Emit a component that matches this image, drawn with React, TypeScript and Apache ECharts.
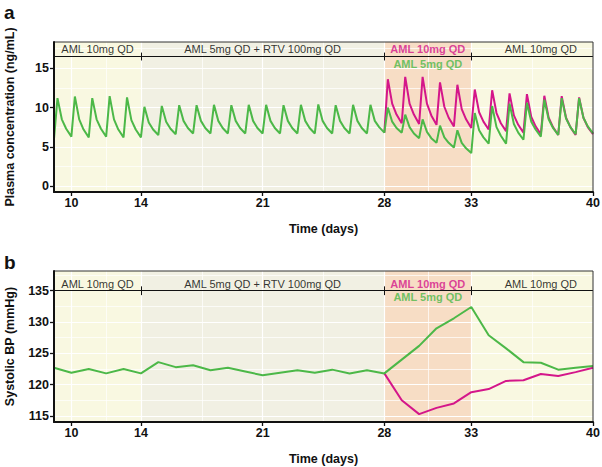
import React, { useEffect, useRef } from 'react';
import * as echarts from 'echarts';

// ---------- Data (panel a: plasma concentration, ng/mL) ----------
// sample times within each daily dosing interval: dose (trough), peak, mid-decay, late-decay
const PEAK_T = 0.2;
const MID_T = 0.45;
const LATE_T = 0.7;

const greenStartDay = 9;
const greenTrough = [6.0, 6.3, 6.2, 6.3, 6.2, 6.2, 6.5, 6.6, 6.7, 6.7, 6.7, 6.7, 6.7, 6.7, 6.7, 6.7, 6.7, 6.7, 6.7, 6.8, 6.8, 6.1, 5.5, 4.9, 4.2, 5.4, 5.4, 5.9, 6.3, 6.5, 6.6, 6.7];
const greenPeak = [11.2, 11.4, 11.2, 11.45, 11.3, 10.1, 10.2, 10.3, 10.3, 10.35, 10.3, 10.35, 10.35, 10.3, 10.35, 10.4, 10.3, 10.35, 10.35, 10.0, 9.1, 8.5, 7.7, 7.1, 9.3, 10.2, 10.5, 10.6, 11.0, 11.2, 11.2];
const greenMid = [8.5, 8.5, 8.5, 8.5, 8.4, 8.1, 8.2, 8.3, 8.3, 8.3, 8.3, 8.3, 8.3, 8.3, 8.3, 8.3, 8.3, 8.3, 8.3, 8.2, 7.5, 6.9, 6.2, 5.5, 7.1, 7.5, 7.9, 8.2, 8.5, 8.6, 8.7];
const greenLate = [7.3, 7.2, 7.3, 7.2, 7.2, 7.2, 7.3, 7.4, 7.4, 7.4, 7.4, 7.4, 7.4, 7.4, 7.4, 7.4, 7.4, 7.4, 7.5, 7.4, 6.7, 6.1, 5.5, 4.8, 6.2, 6.4, 6.8, 7.2, 7.4, 7.5, 7.6];

const magStartDay = 28;
const magTrough = [6.8, 8.0, 7.9, 7.8, 7.6, 7.4, 7.2, 7.0, 6.8, 6.6, 6.5, 6.5, 6.6];
const magPeak = [13.6, 13.9, 13.9, 13.2, 12.9, 12.3, 12.2, 11.8, 11.7, 11.5, 11.45, 11.3];
const magMid = [10.5, 10.5, 10.5, 10.1, 9.8, 9.4, 9.3, 9.0, 8.8, 8.7, 8.7, 8.7];
const magLate = [9.1, 9.1, 9.0, 8.7, 8.5, 8.2, 8.0, 7.8, 7.6, 7.5, 7.5, 7.5];

// ---------- Data (panel b: systolic BP, mmHg) ----------
const bpGreenDays = [9, 10, 11, 12, 13, 14, 15, 16, 17, 18, 19, 20, 21, 22, 23, 24, 25, 26, 27, 28, 29, 30, 31, 32, 33, 34, 35, 36, 37, 38, 39, 40];
const bpGreen = [122.7, 121.9, 122.5, 121.8, 122.5, 121.8, 123.6, 122.8, 123.1, 122.3, 122.7, 122.1, 121.5, 121.9, 122.3, 121.9, 122.4, 121.8, 122.3, 121.8, 124.0, 126.2, 129.0, 130.6, 132.4, 127.9, 125.8, 123.6, 123.5, 122.4, 122.7, 123.0];
const bpMagDays = [28, 29, 30, 31, 32, 33, 34, 35, 36, 37, 38, 39, 40];
const bpMag = [121.8, 117.5, 115.3, 116.3, 117.0, 118.8, 119.3, 120.6, 120.7, 121.7, 121.4, 122.0, 122.7];

// ---------- Axes / annotations ----------
const xTicks = [10, 14, 21, 28, 33, 40];
const xMinor = [12, 17.5, 24.5, 30.5, 36.5];
const yTicksA = [0, 5, 10, 15];
const yMinorA = [2.5, 7.5, 12.5, 17.5];
const yTicksB = [115, 120, 125, 130, 135];
const yMinorB = [117.5, 122.5, 127.5, 132.5, 137.5];
const regionBounds = [9, 14, 28, 33, 40];
const regionColors = ['#f9f8e1', '#f1f0e3', '#f7ddc5', '#f9f8e1'];
const phaseLabels = ['AML 10mg QD', 'AML 5mg QD + RTV 100mg QD', 'AML 10mg QD', 'AML 5mg QD', 'AML 10mg QD'];
const phaseLabelX = [11.5, 21, 30.5, 30.5, 37];
const phaseBreaks = [14, 28, 33];

const GREEN = '#4cb848';
const MAGENTA = '#d4168a';
const FONT = '"Liberation Sans", Arial, Helvetica, sans-serif';

function buildPk(start: number, trough: number[], peak: number[], mid: number[], late: number[]) {
  const pts: number[][] = [];
  for (let i = 0; i < peak.length; i++) {
    const d = start + i;
    pts.push([d, trough[i]], [d + PEAK_T, peak[i]], [d + MID_T, mid[i]], [d + LATE_T, late[i]]);
  }
  pts.push([start + peak.length, trough[peak.length]]);
  return pts;
}

function zipXY(xs: number[], ys: number[]) {
  return xs.map((x, i) => [x, ys[i]]);
}

export default function App() {
  const ref = useRef<HTMLDivElement>(null);
  useEffect(() => {
    const chart = echarts.init(ref.current!, null, { renderer: 'svg' });

    const panels = [
      { yMin: -0.76, yMax: 18.35, ticks: yTicksA, minor: yMinorA, headerY: 16.5, tickHalf: 0.5, labelTop: 17.45, labelBottom: 15.55, name: 'Plasma concentration (ng/mL)' },
      { yMin: 114.04, yMax: 138.15, ticks: yTicksB, minor: yMinorB, headerY: 135, tickHalf: 0.7, labelTop: 136.05, labelBottom: 134.05, name: 'Systolic BP (mmHg)' },
    ];

    const series: any[] = [];
    panels.forEach((p, gi) => {
      series.push({
        type: 'line', xAxisIndex: gi, yAxisIndex: gi, data: [], silent: true,
        markArea: {
          silent: true, z: 0,
          data: regionColors.map((c, i) => [
            { xAxis: regionBounds[i], yAxis: p.yMin, itemStyle: { color: c } },
            { xAxis: regionBounds[i + 1], yAxis: p.yMax },
          ]),
        },
      });
      const gl: any[] = [];
      xTicks.forEach((v) => gl.push({ xAxis: v, lineStyle: { color: '#ffffff', width: 1.2, type: 'solid' } }));
      xMinor.forEach((v) => gl.push({ xAxis: v, lineStyle: { color: '#ffffff', width: 0.7, type: 'solid' } }));
      p.ticks.forEach((v) => gl.push({ yAxis: v, lineStyle: { color: '#ffffff', width: 1.2, type: 'solid' } }));
      p.minor.forEach((v) => gl.push({ yAxis: v, lineStyle: { color: '#ffffff', width: 0.7, type: 'solid' } }));
      series.push({
        type: 'line', xAxisIndex: gi, yAxisIndex: gi, data: [], silent: true,
        markLine: { silent: true, z: 1, symbol: 'none', label: { show: false }, data: gl },
      });
      const hl: any[] = [[{ coord: [9, p.headerY] }, { coord: [40, p.headerY] }]];
      phaseBreaks.forEach((b) => hl.push([{ coord: [b, p.headerY - p.tickHalf] }, { coord: [b, p.headerY + p.tickHalf] }]));
      series.push({
        type: 'line', xAxisIndex: gi, yAxisIndex: gi, data: [], silent: true,
        markLine: { silent: true, z: 2, symbol: 'none', label: { show: false }, lineStyle: { color: '#111', width: 1, type: 'solid' }, data: hl },
      });
      const lbl = phaseLabels.map((t, i) => {
        const isMag = i === 2;
        const isGreen = i === 3;
        return {
          value: [phaseLabelX[i], isGreen ? p.labelBottom : p.labelTop],
          label: {
            formatter: t,
            color: isMag ? MAGENTA : isGreen ? GREEN : '#000',
            fontWeight: isMag || isGreen ? 'bold' : 'normal',
          },
        };
      });
      series.push({
        type: 'scatter', xAxisIndex: gi, yAxisIndex: gi, symbolSize: 0, silent: true, z: 6,
        itemStyle: { color: 'transparent' },
        label: { show: true, position: 'inside', fontSize: 11, fontFamily: FONT },
        data: lbl,
      });
    });

    series.push({
      type: 'line', xAxisIndex: 0, yAxisIndex: 0, z: 3, showSymbol: false, symbol: 'none',
      lineStyle: { color: MAGENTA, width: 2 }, data: buildPk(magStartDay, magTrough, magPeak, magMid, magLate),
    });
    series.push({
      type: 'line', xAxisIndex: 0, yAxisIndex: 0, z: 4, showSymbol: false, symbol: 'none',
      lineStyle: { color: GREEN, width: 2 }, data: buildPk(greenStartDay, greenTrough, greenPeak, greenMid, greenLate),
    });
    series.push({
      type: 'line', xAxisIndex: 1, yAxisIndex: 1, z: 3, showSymbol: false, symbol: 'none',
      lineStyle: { color: MAGENTA, width: 2 }, data: zipXY(bpMagDays, bpMag),
    });
    series.push({
      type: 'line', xAxisIndex: 1, yAxisIndex: 1, z: 4, showSymbol: false, symbol: 'none',
      lineStyle: { color: GREEN, width: 2 }, data: zipXY(bpGreenDays, bpGreen),
    });

    const axisText = { color: '#111', fontWeight: 'bold', fontSize: 12.5, fontFamily: FONT };

    chart.setOption({
      animation: false,
      textStyle: { fontFamily: FONT },
      grid: [
        { left: 54, top: 42, width: 539, height: 150, show: true, borderColor: '#333', borderWidth: 1, backgroundColor: 'transparent', z: 10, containLabel: false, outerBoundsMode: 'none' },
        { left: 54, top: 271, width: 539, height: 151, show: true, borderColor: '#333', borderWidth: 1, backgroundColor: 'transparent', z: 10, containLabel: false, outerBoundsMode: 'none' },
      ],
      xAxis: [0, 1].map((gi) => ({
        type: 'value', gridIndex: gi, min: 9, max: 40, z: 10,
        axisLine: { show: true, onZero: false, lineStyle: { color: '#111', width: 2 } },
        axisTick: { show: true, customValues: xTicks, length: 4, lineStyle: { color: '#111', width: 1.3 } },
        axisLabel: { ...axisText, customValues: xTicks, margin: 4 },
        splitLine: { show: false },
        name: 'Time (days)', nameLocation: 'middle', nameGap: 30,
        nameTextStyle: { ...axisText, fontSize: 12.5 },
      })),
      yAxis: panels.map((p, gi) => ({
        type: 'value', gridIndex: gi, min: p.yMin, max: p.yMax, z: 10,
        axisLine: { show: true, onZero: false, lineStyle: { color: '#111', width: 2 } },
        axisTick: { show: true, customValues: p.ticks, length: 4, lineStyle: { color: '#111', width: 1.3 } },
        axisLabel: { ...axisText, customValues: p.ticks, margin: 5 },
        splitLine: { show: false },
        name: p.name, nameLocation: 'middle', nameGap: 38, nameRotate: 90,
        nameTextStyle: { ...axisText, fontSize: 12.5 },
      })),
      graphic: [
        { type: 'text', left: 4, top: 3, style: { text: 'a', font: `bold 19px ${FONT}`, fill: '#111' } },
        { type: 'text', left: 4, top: 253, style: { text: 'b', font: `bold 19px ${FONT}`, fill: '#111' } },
      ],
      series,
    });

    return () => chart.dispose();
  }, []);
  return <div ref={ref} style={{ position: 'absolute', left: 0, top: 0, width: 602, height: 467 }} />;
}
